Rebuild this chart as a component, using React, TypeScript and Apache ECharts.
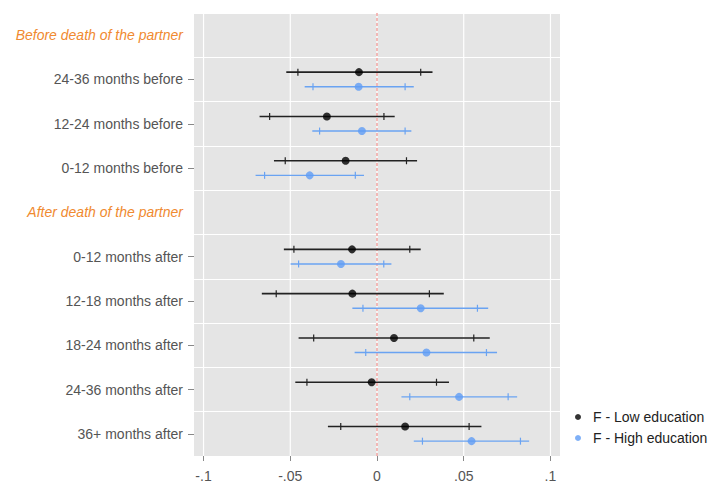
import React, { useEffect, useRef } from "react";
import * as echarts from "echarts";

const categories = [
  "Before death of the partner",
  "24-36 months before",
  "12-24 months before",
  "0-12 months before",
  "After death of the partner",
  "0-12 months after",
  "12-18 months after",
  "18-24 months after",
  "24-36 months after",
  "36+ months after",
];
const headerRows = [0, 4];

// Low education: estimate, outer CI (lo/hi), inner CI (lo/hi)
const lowEst = [null, -0.0104, -0.0289, -0.0181, null, -0.0144, -0.0142, 0.0098, -0.0031, 0.0162];
const lowOuterLo = [null, -0.0523, -0.0677, -0.0594, null, -0.0537, -0.0664, -0.0452, -0.0471, -0.0283];
const lowInnerLo = [null, -0.0456, -0.0619, -0.0529, null, -0.0479, -0.0581, -0.0365, -0.0404, -0.0209];
const lowInnerHi = [null, 0.0252, 0.004, 0.017, null, 0.0189, 0.0302, 0.0558, 0.0343, 0.0531];
const lowOuterHi = [null, 0.032, 0.0102, 0.0231, null, 0.0252, 0.0385, 0.065, 0.0415, 0.0602];

// High education
const highEst = [null, -0.0106, -0.0087, -0.0388, null, -0.0208, 0.0252, 0.0285, 0.0473, 0.0545];
const highOuterLo = [null, -0.0417, -0.0373, -0.07, null, -0.0498, -0.0142, -0.0129, 0.0141, 0.0212];
const highInnerLo = [null, -0.0369, -0.0331, -0.0648, null, -0.0452, -0.0081, -0.0065, 0.0189, 0.0262];
const highInnerHi = [null, 0.0162, 0.0162, -0.0125, null, 0.0039, 0.0579, 0.0631, 0.0756, 0.0827];
const highOuterHi = [null, 0.0212, 0.0198, -0.0075, null, 0.0083, 0.0641, 0.0692, 0.0808, 0.0877];

const tickValues = [-0.1, -0.05, 0, 0.05, 0.1];
const tickLabels = ["-.1", "-.05", "0", ".05", ".1"];
const referenceValue = [0];

const seriesNames = ["F - Low education", "F - High education"];

const LOW_COLOR = "#000000";
const LOW_LINE = "#222222";
const HIGH_COLOR = "#5f9cf5";
const HIGH_LINE = "#6aa3f2";
const FONT = "Liberation Sans, Arial, sans-serif";

function buildRows(est: (number | null)[], oLo: (number | null)[], iLo: (number | null)[], iHi: (number | null)[], oHi: (number | null)[]) {
  const rows: any[] = [];
  est.forEach((e, i) => {
    if (e === null) return;
    rows.push([i, oLo[i], iLo[i], e, iHi[i], oHi[i]]);
  });
  return rows;
}

function makeErrorRender(offsetFrac: number, color: string, width: number) {
  return (params: any, api: any) => {
    const cat = api.value(0);
    const oLo = api.value(1);
    const iLo = api.value(2);
    const iHi = api.value(4);
    const oHi = api.value(5);
    const band = api.size([0, 1])[1];
    const dy = band * offsetFrac;
    const pLo = api.coord([oLo, cat]);
    const pHi = api.coord([oHi, cat]);
    const pILo = api.coord([iLo, cat]);
    const pIHi = api.coord([iHi, cat]);
    const y = pLo[1] + dy;
    const th = 3.5;
    const style = { stroke: color, lineWidth: width };
    return {
      type: "group",
      children: [
        { type: "line", shape: { x1: pLo[0], y1: y, x2: pHi[0], y2: y }, style },
        { type: "line", shape: { x1: pILo[0], y1: y - th, x2: pILo[0], y2: y + th }, style: { stroke: color, lineWidth: 1.2 } },
        { type: "line", shape: { x1: pIHi[0], y1: y - th, x2: pIHi[0], y2: y + th }, style: { stroke: color, lineWidth: 1.2 } },
      ],
    };
  };
}

function makeVLineRender(style: any) {
  return (params: any, api: any) => {
    const x = api.coord([api.value(0), 0])[0];
    const cs = params.coordSys;
    return {
      type: "line",
      shape: { x1: x, y1: cs.y, x2: x, y2: cs.y + cs.height },
      style,
    };
  };
}

export default function App() {
  const ref = useRef<HTMLDivElement>(null);
  useEffect(() => {
    if (!ref.current) return;
    const chart = echarts.init(ref.current, null, { renderer: "svg" });
    const lowRows = buildRows(lowEst, lowOuterLo, lowInnerLo, lowInnerHi, lowOuterHi);
    const highRows = buildRows(highEst, highOuterLo, highInnerLo, highInnerHi, highOuterHi);
    const option: any = {
      animation: false,
      textStyle: { fontFamily: FONT },
      grid: {
        left: 194,
        right: 149,
        top: 13,
        bottom: 28,
        show: true,
        backgroundColor: "#e5e5e5",
        borderWidth: 0,
      },
      legend: {
        orient: "vertical",
        left: 570,
        top: 405,
        icon: "circle",
        itemWidth: 6,
        itemHeight: 6,
        itemGap: 7,
        data: seriesNames,
        textStyle: { fontSize: 14, color: "#222", fontFamily: FONT, padding: [0, 0, 0, 7] },
      },
      xAxis: {
        type: "value",
        min: -0.1055,
        max: 0.1055,
        axisLine: { show: false, onZero: false },
        splitLine: { show: false },
        axisTick: {
          show: true,
          customValues: tickValues,
          length: 5,
          lineStyle: { color: "#888", width: 1 },
        },
        axisLabel: {
          customValues: tickValues,
          fontSize: 14,
          color: "#555",
          margin: 13,
          formatter: (v: number) => {
            const idx = tickValues.findIndex((t) => Math.abs(t - v) < 1e-9);
            return idx >= 0 ? tickLabels[idx] : "";
          },
        },
      },
      yAxis: {
        type: "category",
        data: categories,
        inverse: true,
        axisLine: { show: false, onZero: false },
        axisTick: {
          show: true,
          alignWithLabel: true,
          length: 6,
          interval: (i: number) => !headerRows.includes(i),
          lineStyle: { color: "#888", width: 1 },
        },
        splitLine: { show: true, interval: 0, lineStyle: { color: "#ffffff", width: 1.2 } },
        axisLabel: {
          interval: 0,
          margin: 11,
          fontSize: 14,
          color: "#555",
          formatter: (v: string, i: number) =>
            headerRows.includes(i) ? "{h|" + v + "}" : v,
          rich: {
            h: {
              fontSize: 14,
              fontStyle: "italic",
              color: "#f08a30",
            },
          },
        },
      },
      series: [
        {
          type: "custom",
          z: 1,
          silent: true,
          renderItem: makeVLineRender({ stroke: "#ffffff", lineWidth: 1.2 }),
          encode: { x: 0, y: 1 },
          data: tickValues.map((t) => [t, 0]),
        },
        {
          type: "custom",
          z: 2,
          silent: true,
          renderItem: makeVLineRender({ stroke: "#f08f8c", lineWidth: 1.2, lineDash: [3, 2] }),
          encode: { x: 0, y: 1 },
          data: referenceValue.map((t) => [t, 0]),
        },
        {
          type: "custom",
          z: 3,
          renderItem: makeErrorRender(-0.165, LOW_LINE, 1.6),
          encode: { x: [1, 2, 3, 4, 5], y: 0 },
          data: lowRows,
        },
        {
          type: "custom",
          z: 3,
          renderItem: makeErrorRender(0.165, HIGH_LINE, 1.4),
          encode: { x: [1, 2, 3, 4, 5], y: 0 },
          data: highRows,
        },
        {
          name: seriesNames[0],
          type: "scatter",
          z: 4,
          symbolSize: 8,
          symbolOffset: [0, -7.3],
          itemStyle: { color: LOW_COLOR },
          data: lowRows.map((r) => [r[3], r[0]]),
        },
        {
          name: seriesNames[1],
          type: "scatter",
          z: 4,
          symbolSize: 8,
          symbolOffset: [0, 7.3],
          itemStyle: { color: HIGH_COLOR },
          data: highRows.map((r) => [r[3], r[0]]),
        },
      ],
    };
    chart.setOption(option);
    return () => chart.dispose();
  }, []);
  return <div ref={ref} style={{ width: 709, height: 484, position: "absolute", left: 0, top: 0 }} />;
}
